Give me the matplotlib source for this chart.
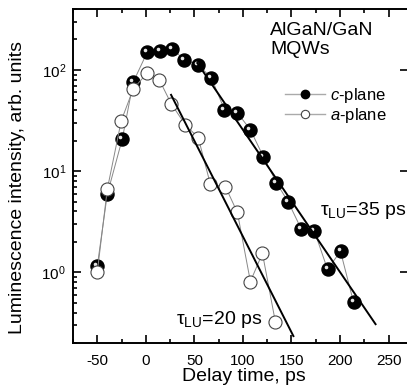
import matplotlib
matplotlib.use("Agg")
import matplotlib.pyplot as plt
import matplotlib.transforms as mtransforms
from matplotlib.lines import Line2D
from matplotlib.ticker import LogLocator, MultipleLocator, NullFormatter

plt.rcParams["font.family"] = ["Liberation Sans", "DejaVu Sans"]
plt.rcParams["mathtext.fontset"] = "custom"
plt.rcParams["mathtext.rm"] = "Liberation Sans"
plt.rcParams["mathtext.it"] = "Liberation Sans:italic"
plt.rcParams["mathtext.default"] = "regular"
plt.rcParams["axes.unicode_minus"] = False

# c-plane (filled balls)
t_c = [-50, -39.7, -24.2, -12.9, 1.5, 15, 27.3, 39.7, 54, 67.5, 81, 94.3,
       107.7, 121, 134.5, 146.9, 160.3, 173.7, 187.1, 200.5, 213.9]
I_c = [1.15, 5.9, 20.9, 76, 150, 154, 161, 126, 112, 83.5, 40.4, 37.7,
       25.6, 13.9, 7.7, 4.9, 2.65, 2.54, 1.07, 1.61, 0.506]

# a-plane (open circles)
t_a = [-50, -39.7, -25.3, -12.9, 1.5, 13.9, 26.3, 40.7, 54, 66.5, 82, 94.3,
       107.7, 120.1, 133.5]
I_a = [1.0, 6.6, 31.5, 65, 93.4, 79.7, 46, 28.7, 21.4, 7.4, 7.0, 3.9,
       0.81, 1.54, 0.32]

# exponential fits (end points)
fit_c_t = [53, 236.6]
fit_c_I = [117, 0.307]
fit_a_t = [26, 152]
fit_a_I = [56.7, 0.234]

fig = plt.figure(figsize=(4.07, 3.92), dpi=100)
ax = fig.add_axes([73 / 407, 49 / 392, 335 / 407, 334 / 392])

# connecting lines + markers
ax.plot(t_c, I_c, color="#888888", lw=0.7, zorder=2)
ax.plot(t_c, I_c, ls="none", marker="o", ms=9.4, mfc="black", mec="black",
        zorder=3)
# little highlight to make the balls look 3D
hl = mtransforms.offset_copy(ax.transData, fig=fig, x=-2, y=2, units="dots")
ax.plot(t_c, I_c, ls="none", marker="o", ms=2.6, mfc="white", mec="none",
        alpha=0.9, transform=hl, zorder=3.5)

ax.plot(t_a, I_a, color="#888888", lw=0.7, zorder=4)
ax.plot(t_a, I_a, ls="none", marker="o", ms=9.4, mfc="white", mec="#444444",
        mew=0.8, zorder=5)

ax.plot(fit_c_t, fit_c_I, color="black", lw=1.4, zorder=6)
ax.plot(fit_a_t, fit_a_I, color="black", lw=1.4, zorder=6)

ax.set_yscale("log")
ax.set_xlim(-75, 270)
ax.set_ylim(0.2, 400)
ax.xaxis.set_major_locator(MultipleLocator(50))
ax.xaxis.set_minor_locator(MultipleLocator(25))
ax.yaxis.set_major_locator(LogLocator(base=10))
ax.yaxis.set_minor_locator(LogLocator(base=10, subs=range(2, 10)))
ax.yaxis.set_minor_formatter(NullFormatter())

for s in ax.spines.values():
    s.set_linewidth(1.4)
ax.tick_params(which="both", direction="in", top=True, right=True,
               width=1.2, labelsize=11)
ax.tick_params(which="major", length=5.5)
ax.tick_params(which="minor", length=3)
ax.tick_params(axis="y", which="minor", right=False)
ax.tick_params(axis="x", pad=8)
ax.tick_params(axis="y", pad=5)

ax.set_xlabel("Delay time, ps", fontsize=14)
ax.set_ylabel("Luminescence intensity, arb. units", fontsize=14)
ax.xaxis.set_label_coords(0.51, -0.075)
ax.yaxis.set_label_coords(-0.14, 0.467)

ax.text(0.588, 0.96, "AlGaN/GaN\nMQWs", transform=ax.transAxes,
        ha="left", va="top", fontsize=14, linespacing=1.15)
ax.text(179, 3.7, r"$\tau_{LU}$=35 ps", ha="left", va="baseline", fontsize=14)
ax.text(31.4, 0.307, r"$\tau_{LU}$=20 ps", ha="left", va="baseline",
        fontsize=14)

handles = [
    Line2D([], [], color="#aaaaaa", lw=1, marker="o", ms=6, mfc="black",
           mec="black"),
    Line2D([], [], color="#aaaaaa", lw=1, marker="o", ms=6, mfc="white",
           mec="#444444", mew=0.8),
]
ax.legend(handles, ["$\\mathit{c}$-plane", "$\\mathit{a}$-plane"],
          loc="upper left", bbox_to_anchor=(0.633, 0.77), frameon=False,
          fontsize=12, handlelength=2.4, handletextpad=0.3, labelspacing=0.05,
          borderpad=0, borderaxespad=0)

fig.savefig("out.png", dpi=100)
